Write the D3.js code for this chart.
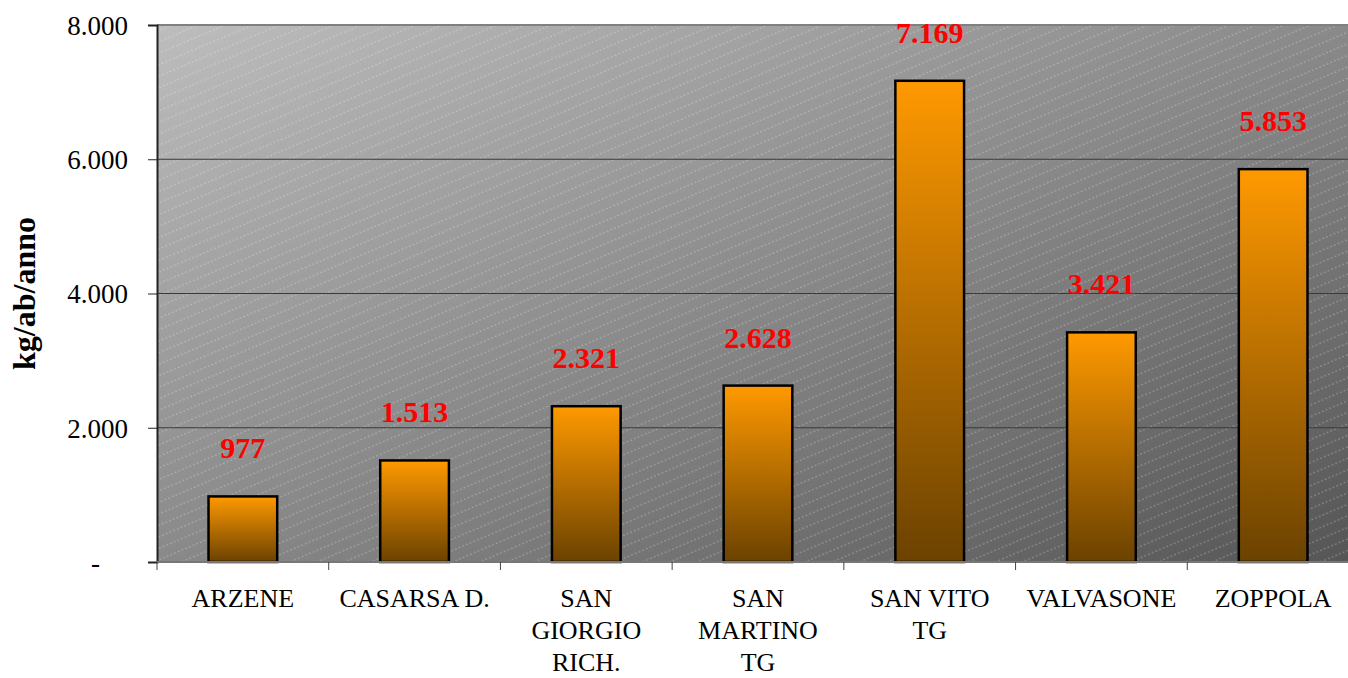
<!DOCTYPE html>
<html>
<head>
<meta charset="utf-8">
<script src="https://cdn.jsdelivr.net/npm/d3@7"></script>
<style>
  body { margin: 0; background: #fff; }
  svg { display: block; }
</style>
</head>
<body>
<svg id="chart"></svg>
<script>
// dati
const categories = ["ARZENE", "CASARSA D.", "SAN GIORGIO RICH.", "SAN MARTINO TG", "SAN VITO TG", "VALVASONE", "ZOPPOLA"];
const labelLines = [["ARZENE"], ["CASARSA D."], ["SAN", "GIORGIO", "RICH."], ["SAN", "MARTINO", "TG"], ["SAN VITO", "TG"], ["VALVASONE"], ["ZOPPOLA"]];
const values = [977, 1513, 2321, 2628, 7169, 3421, 5853];
const yTicks = [0, 2000, 4000, 6000, 8000];
const yTitle = "kg/ab/anno";

const width = 1348;
const height = 678;
const margin = { top: 25, right: -11, bottom: 116, left: 157 };
const font = "'Palatino Linotype', 'Book Antiqua', Palatino, 'Liberation Serif', serif";

const it = d3.formatLocale({ decimal: ",", thousands: ".", grouping: [3], currency: ["€", ""] });
const fmt = it.format(",d");

const svg = d3.select("#chart")
    .attr("width", width)
    .attr("height", height);

const defs = svg.append("defs");

// sfondo area grafico
const bg = defs.append("linearGradient")
    .attr("id", "bgGrad")
    .attr("x1", 0).attr("y1", 0).attr("x2", 1).attr("y2", 1);
bg.append("stop").attr("offset", "0%").attr("stop-color", "#bdbdbd");
bg.append("stop").attr("offset", "100%").attr("stop-color", "#555555");

const pat = defs.append("pattern")
    .attr("id", "hatch")
    .attr("patternUnits", "userSpaceOnUse")
    .attr("width", 40).attr("height", 10.6)
    .attr("patternTransform", "rotate(-23)");
pat.append("line")
    .attr("x1", 0).attr("y1", 5).attr("x2", 40).attr("y2", 5)
    .attr("stroke", "#ffffff")
    .attr("stroke-opacity", 0.32)
    .attr("stroke-width", 1)
    .attr("stroke-dasharray", "2,2");

// gradiente barre
const bar = defs.append("linearGradient")
    .attr("id", "barGrad")
    .attr("x1", 0).attr("y1", 0).attr("x2", 0).attr("y2", 1);
bar.append("stop").attr("offset", "0%").attr("stop-color", "#ff9900");
bar.append("stop").attr("offset", "100%").attr("stop-color", "#6b4200");

// scale
const x = d3.scaleBand()
    .domain(categories)
    .range([margin.left, width - margin.right])
    .padding(0);

const y = d3.scaleLinear()
    .domain([0, 8000])
    .range([height - margin.bottom, margin.top]);

const plotW = width - margin.right - margin.left;
const plotH = y(0) - y(8000);

svg.append("rect")
    .attr("x", margin.left).attr("y", margin.top)
    .attr("width", plotW).attr("height", plotH)
    .attr("fill", "url(#bgGrad)");
svg.append("rect")
    .attr("x", margin.left).attr("y", margin.top)
    .attr("width", plotW).attr("height", plotH)
    .attr("fill", "url(#hatch)");

// griglia
svg.append("g")
    .selectAll("line")
    .data(yTicks.filter(d => d > 0 && d < 8000))
    .enter().append("line")
    .attr("x1", margin.left).attr("x2", width)
    .attr("y1", d => y(d)).attr("y2", d => y(d))
    .attr("stroke", "#3a3a3a")
    .attr("stroke-width", 1);

// bordo superiore
svg.append("line")
    .attr("x1", margin.left).attr("x2", width)
    .attr("y1", y(8000)).attr("y2", y(8000))
    .attr("stroke", "#808080")
    .attr("stroke-width", 2);

// barre
const bw = x.bandwidth() * 0.4;
svg.selectAll(".bar")
    .data(values)
    .enter().append("rect")
    .attr("class", "bar")
    .attr("x", (d, i) => x(categories[i]) + (x.bandwidth() - bw) / 2)
    .attr("y", d => y(d))
    .attr("width", bw)
    .attr("height", d => y(0) - y(d))
    .attr("fill", "url(#barGrad)")
    .attr("stroke", "#000")
    .attr("stroke-width", 2.5);

// etichette valori
svg.selectAll(".label")
    .data(values)
    .enter().append("text")
    .attr("class", "label")
    .attr("x", (d, i) => x(categories[i]) + x.bandwidth() / 2)
    .attr("y", d => y(d) - 38)
    .attr("text-anchor", "middle")
    .style("font-family", font)
    .style("font-size", "30px")
    .style("font-weight", "bold")
    .style("fill", "#ff0000")
    .text(d => fmt(d));

// asse Y
const yAxis = svg.append("g")
    .attr("transform", `translate(${margin.left},0)`)
    .call(d3.axisLeft(y).tickValues(yTicks).tickSize(9).tickPadding(0)
        .tickFormat(d => d === 0 ? "-" : fmt(d)));
yAxis.select(".domain").attr("stroke", "#222").attr("stroke-width", 2);
yAxis.selectAll(".tick line").attr("stroke", "#222").attr("stroke-width", 1);
yAxis.selectAll(".tick text")
    .attr("x", d => d === 0 ? -57 : -29)
    .attr("dy", "0.35em")
    .style("font-family", font)
    .style("font-size", "27px")
    .style("fill", "#000");

// asse X
const xAxis = svg.append("g")
    .attr("transform", `translate(0,${y(0)})`);
xAxis.append("line")
    .attr("x1", margin.left).attr("x2", width)
    .attr("y1", 0).attr("y2", 0)
    .attr("stroke", "#777")
    .attr("stroke-width", 2);
xAxis.selectAll(".sep")
    .data(categories)
    .enter().append("line")
    .attr("class", "sep")
    .attr("x1", d => x(d)).attr("x2", d => x(d))
    .attr("y1", 0).attr("y2", 8)
    .attr("stroke", "#444")
    .attr("stroke-width", 1);

const xl = xAxis.selectAll(".xlab")
    .data(labelLines)
    .enter().append("text")
    .attr("class", "xlab")
    .attr("text-anchor", "middle")
    .style("font-family", font)
    .style("font-size", "26px")
    .style("fill", "#000");
xl.selectAll("tspan")
    .data((d, i) => d.map(t => ({ t, i })))
    .enter().append("tspan")
    .attr("x", d => x(categories[d.i]) + x.bandwidth() / 2)
    .attr("y", (d, j) => 45 + j * 32)
    .text(d => d.t);

// titolo asse Y
svg.append("text")
    .attr("transform", `translate(35,${(y(0) + y(8000)) / 2}) rotate(-90)`)
    .attr("text-anchor", "middle")
    .style("font-family", font)
    .style("font-size", "32px")
    .style("font-weight", "bold")
    .style("fill", "#000")
    .text(yTitle);
</script>
</body>
</html>
